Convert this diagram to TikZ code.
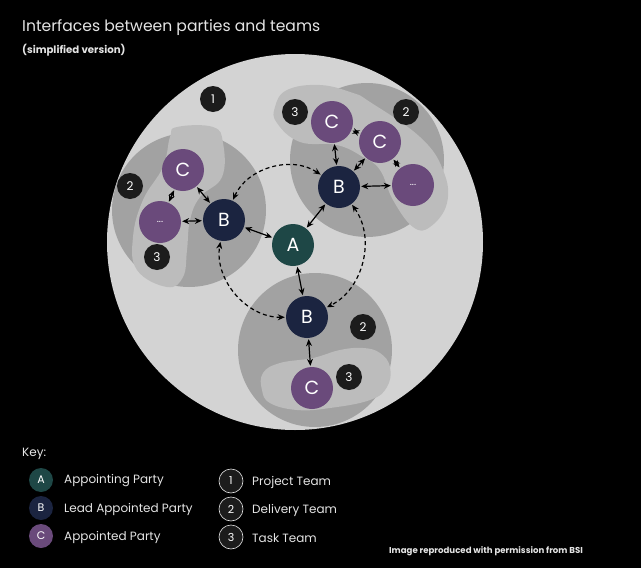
\documentclass[tikz,border=0pt]{standalone}
\usepackage{fontspec}
\setmainfont{Poppins}
\usetikzlibrary{arrows.meta}

\definecolor{projgrey}{HTML}{D3D3D3}
\definecolor{delivgrey}{HTML}{A2A2A2}
\definecolor{taskgrey}{HTML}{BCBCBC}
\definecolor{apptteal}{HTML}{1E4746}
\definecolor{leadnavy}{HTML}{1B2440}
\definecolor{partypurple}{HTML}{6A4A7B}
\definecolor{numblack}{HTML}{1C1C1C}
\definecolor{keygrey}{HTML}{E4E4E4}

\begin{document}
\begin{tikzpicture}[
  x=1pt, y=-1pt,
  party/.style={circle, minimum size=42pt, inner sep=0pt, text=white,
                font=\fontsize{19}{19}\selectfont},
  appointing/.style={party, fill=apptteal},
  lead/.style={party, fill=leadnavy},
  appointed/.style={party, fill=partypurple},
  teamno/.style={circle, fill=numblack, minimum size=26pt, inner sep=0pt, text=white,
                 font=\fontsize{12}{12}\selectfont},
  keydot/.style={circle, minimum size=24pt, inner sep=0pt, text=white,
                 font=\fontsize{11}{11}\selectfont},
  keytext/.style={anchor=west, text=keygrey, inner sep=0pt, font=\fontsize{12}{13}\selectfont},
  link/.style={line width=1.2pt, {Stealth[length=7pt,width=6pt]}-{Stealth[length=7pt,width=6pt]},
               shorten >=1pt, shorten <=1pt},
  dashlink/.style={link, dash pattern=on 4pt off 3pt}
]

% background and page
\fill[black] (0,0) rectangle (641,568);

% project team
\fill[projgrey] (295,242) circle (188);

% delivery teams
\fill[delivgrey] (189,210) circle (77);
\fill[delivgrey] (367,160) circle (77);
\fill[delivgrey] (315,350) circle (77);

% task teams
\fill[taskgrey] plot[smooth cycle, tension=0.7] coordinates {
  (177,127) (213,127) (223,143) (222,177) (200,197) (190,220) (187,250)
  (183,277) (167,287) (137,270) (133,237) (143,200) (163,167) (170,137)};
\fill[taskgrey] plot[smooth cycle, tension=0.7] coordinates {
  (275,107) (287,90) (320,85) (353,93) (370,102) (420,137) (443,170)
  (447,203) (430,227) (413,227) (393,200) (380,170) (363,157) (337,145)
  (300,142) (277,123)};
\fill[taskgrey] plot[smooth cycle, tension=0.7] coordinates {
  (263,373) (280,363) (313,358) (340,350) (363,348) (380,353) (390,367)
  (387,387) (370,400) (330,408) (297,410) (270,403) (262,390)};

% parties
\node[appointing] (a) at (293,245) {A};
\node[lead] (bleft) at (224,220) {B};
\node[lead] (btop) at (339,187) {B};
\node[lead] (bbot) at (307,317) {B};
\node[appointed] (cleft) at (183,170) {C};
\node[appointed] (dleft) at (160,222) {\fontsize{10}{10}\selectfont ...};
\node[appointed] (ctop) at (332,122) {C};
\node[appointed] (cmid) at (380,142) {C};
\node[appointed] (dtop) at (413,185) {\fontsize{10}{10}\selectfont ...};
\node[appointed] (cbot) at (312,388) {C};

% team numbers
\node[teamno] (proj) at (213,99) {1};
\node[teamno] (dleftno) at (130,186) {2};
\node[teamno] (tleftno) at (157,257) {3};
\node[teamno] (dtopno) at (406,112) {2};
\node[teamno] (ttopno) at (295,112) {3};
\node[teamno] (dbotno) at (363,327) {2};
\node[teamno] (tbotno) at (349,377) {3};

% links
\draw[link] (a) -- (bleft);
\draw[link] (a) -- (btop);
\draw[link] (a) -- (bbot);
\draw[link] (bleft) -- (cleft);
\draw[link] (bleft) -- (dleft);
\draw[link] (cleft) -- (dleft);
\draw[link] (btop) -- (ctop);
\draw[link] (btop) -- (cmid);
\draw[link] (btop) -- (dtop);
\draw[link] (ctop) -- (cmid);
\draw[link] (cmid) -- (dtop);
\draw[link] (bbot) -- (cbot);

\draw[dashlink] (bleft) to[bend left=50] (btop);
\draw[dashlink] (btop) to[bend left=50] (bbot);
\draw[dashlink] (bbot) to[bend left=50] (bleft);

% titles
\node[anchor=base west, text=keygrey, inner sep=0pt, font=\fontsize{15.6}{18}\selectfont]
  (title) at (22,31) {Interfaces between parties and teams};
\node[anchor=base west, text=keygrey, inner sep=0pt, font=\bfseries\fontsize{10.2}{12}\selectfont]
  (subtitle) at (22,53) {(simplified version)};

% key
\node[anchor=base west, text=keygrey, inner sep=0pt, font=\fontsize{12}{13}\selectfont]
  (key) at (22,456) {Key:};
\node[keydot, fill=apptteal] (keya) at (41,480) {A};
\node[keydot, fill=leadnavy] (keyb) at (41,508) {B};
\node[keydot, fill=partypurple] (keyc) at (41,536) {C};
\node[keytext] at (64,481) {Appointing Party};
\node[keytext] at (64,509) {Lead Appointed Party};
\node[keytext] at (64,537) {Appointed Party};
\node[keydot, fill=numblack, draw=keygrey, line width=0.6pt] (key1) at (231,481) {1};
\node[keydot, fill=numblack, draw=keygrey, line width=0.6pt] (key2) at (231,509) {2};
\node[keydot, fill=numblack, draw=keygrey, line width=0.6pt] (key3) at (231,537) {3};
\node[keytext] at (252,482) {Project Team};
\node[keytext] at (252,510) {Delivery Team};
\node[keytext] at (252,538) {Task Team};

\node[anchor=base west, text=keygrey, inner sep=0pt, font=\bfseries\fontsize{8.6}{10}\selectfont]
  (credit) at (389,553) {Image reproduced with permission from BSI};

\end{tikzpicture}
\end{document}
